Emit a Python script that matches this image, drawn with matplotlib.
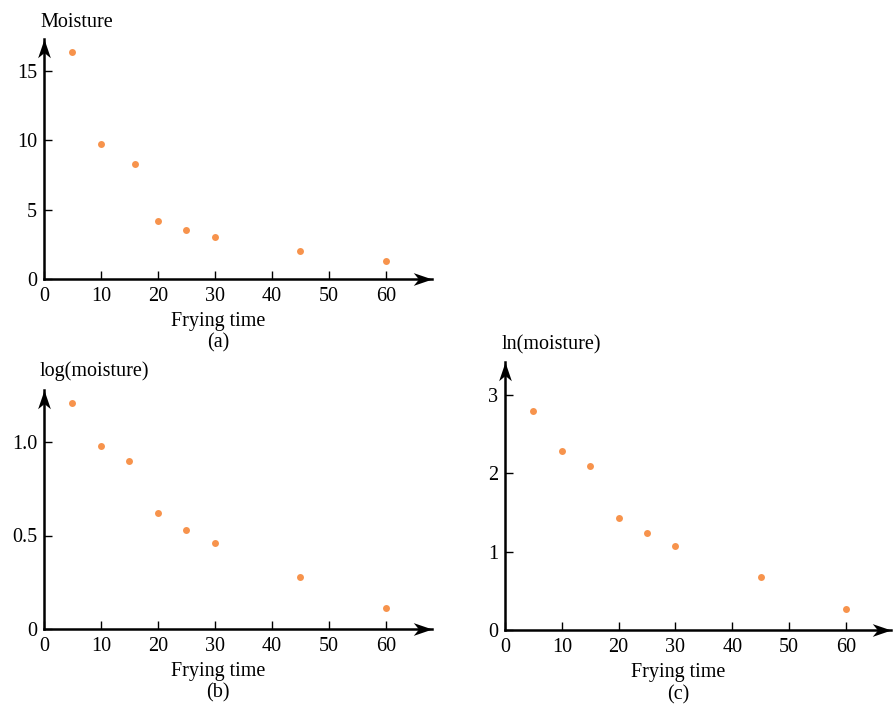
import matplotlib
matplotlib.use("Agg")
import matplotlib.pyplot as plt
from matplotlib.path import Path

plt.rcParams['font.family'] = ['Liberation Serif', 'DejaVu Serif']
plt.rcParams['font.size'] = 14.5

# data
time = [5, 10, 15, 20, 25, 30, 45, 60]
time_a = [5, 10, 16, 20, 25, 30, 45, 60]   # third point sits a bit right in panel (a)
moisture = [16.4, 9.7, 8.3, 4.2, 3.5, 3.0, 2.0, 1.3]
log_moisture = [1.21, 0.98, 0.90, 0.62, 0.53, 0.46, 0.28, 0.11]
ln_moisture = [2.79, 2.28, 2.09, 1.43, 1.24, 1.07, 0.67, 0.27]

x_ticks = [0, 10, 20, 30, 40, 50, 60]
yticks_a = [0, 5, 10, 15]
yticks_b = [0, 0.5, 1.0]
ylabels_b = ['0', '0.5', '1.0']
yticks_c = [0, 1, 2, 3]

W, H = 895, 704
dot_color = '#F7934C'

# stealth-like arrow heads, tip at origin
right_head = Path([(0, 0), (-1, 0.34), (-0.72, 0), (-1, -0.34), (0, 0)],
                  [Path.MOVETO, Path.LINETO, Path.LINETO, Path.LINETO, Path.CLOSEPOLY])
up_head = Path([(0, 0), (0.34, -1), (0, -0.72), (-0.34, -1), (0, 0)],
               [Path.MOVETO, Path.LINETO, Path.LINETO, Path.LINETO, Path.CLOSEPOLY])

fig = plt.figure(figsize=(W / 100, H / 100), dpi=100)


def px_axes(left, bottom, width, height):
    # pixel box (from top-left of image) to figure fraction
    return fig.add_axes([left / W, 1 - bottom / H, width / W, height / H])


def panel(ax, x, y, ytop, yticks, ylabels=None):
    ax.plot(x, y, 'o', color=dot_color, markersize=5, markeredgewidth=0, clip_on=False)
    ax.set_xlim(0, 68)
    ax.set_ylim(0, ytop)
    ax.set_xticks(x_ticks)
    ax.set_yticks(yticks)
    if ylabels is not None:
        ax.set_yticklabels(ylabels)
    for s in ['top', 'right']:
        ax.spines[s].set_visible(False)
    for s in ['left', 'bottom']:
        ax.spines[s].set_linewidth(1.8)
    ax.tick_params(direction='in', length=6, width=1.0, labelsize=14.5)
    ax.tick_params(axis='x', pad=6)
    ax.tick_params(axis='y', pad=5)
    ax.plot(1, 0, marker=right_head, markersize=27, color='black', markeredgewidth=0,
            transform=ax.transAxes, clip_on=False)
    ax.plot(0, 1, marker=up_head, markersize=27, color='black', markeredgewidth=0,
            transform=ax.transAxes, clip_on=False)


# (a)
ax_a = px_axes(44, 279, 68 * 5.7, 17.3 * 13.87)
panel(ax_a, time_a, moisture, 17.3, yticks_a)
# (b)
ax_b = px_axes(44, 629, 68 * 5.7, 1.28 * 187)
panel(ax_b, time, log_moisture, 1.28, yticks_b, ylabels_b)
# (c)
ax_c = px_axes(505, 630, 68 * 5.68, 3.42 * 78.4)
panel(ax_c, time, ln_moisture, 3.42, yticks_c)


def ftext(x, y, s, **kw):
    fig.text(x / W, 1 - y / H, s, fontsize=14.5, **kw)


ftext(40, 27, 'Moisture', ha='left', va='baseline')
ftext(218, 326, 'Frying time', ha='center', va='baseline')
ftext(218, 343, '(a)', ha='center', va='center')

ftext(40, 376, 'log(moisture)', ha='left', va='baseline')
ftext(218, 676, 'Frying time', ha='center', va='baseline')
ftext(218, 693, '(b)', ha='center', va='center')

ftext(502, 349, 'ln(moisture)', ha='left', va='baseline')
ftext(678, 677, 'Frying time', ha='center', va='baseline')
ftext(678, 695, '(c)', ha='center', va='center')

plt.savefig('out.png', dpi=100)
